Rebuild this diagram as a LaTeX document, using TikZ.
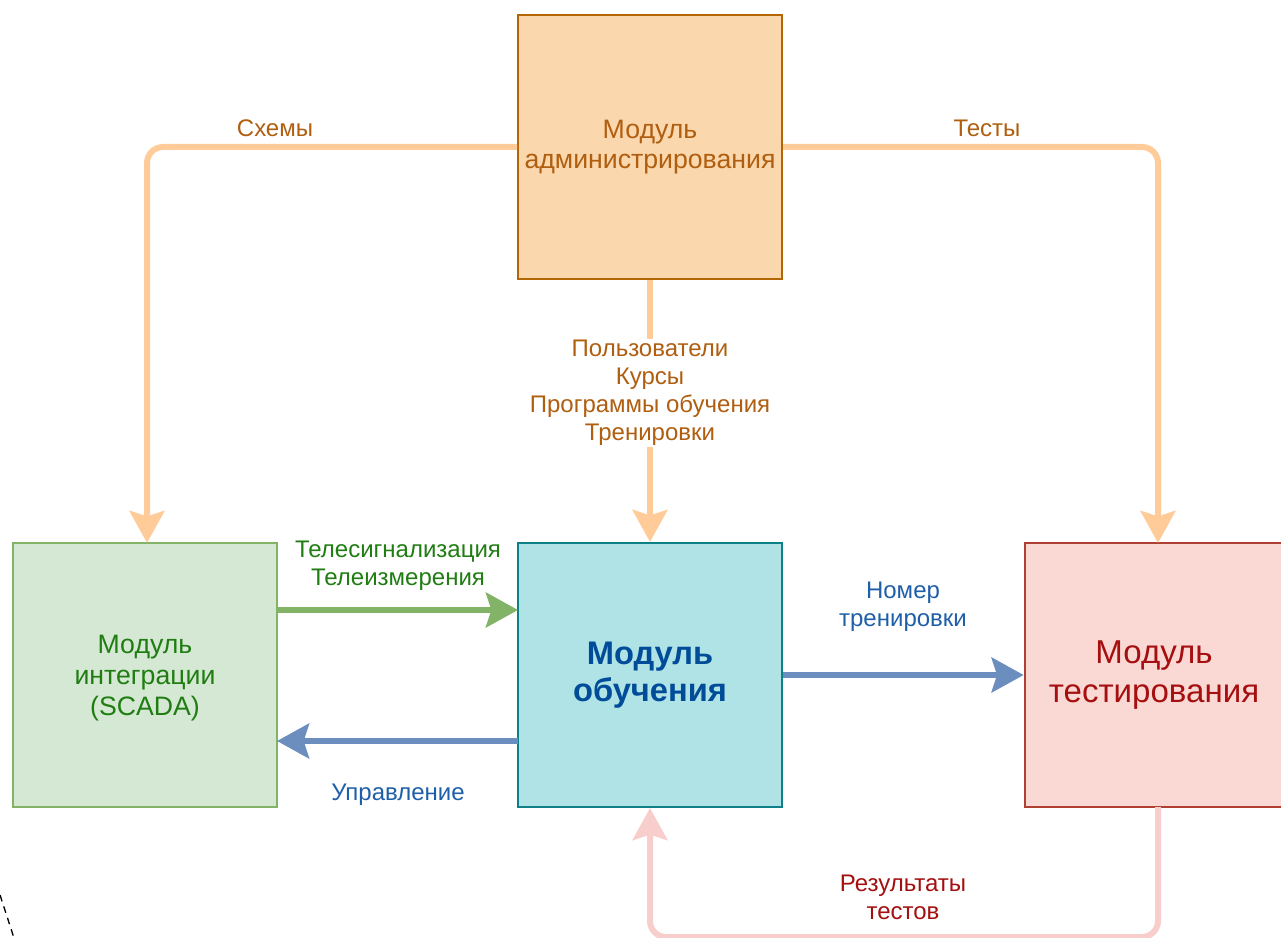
\documentclass[tikz,border=0pt]{standalone}
\usepackage{fontspec}
\setmainfont{Liberation Sans}
\usetikzlibrary{arrows.meta}
\definecolor{admfill}{HTML}{FAD7AC}
\definecolor{admdraw}{HTML}{B46504}
\definecolor{admtext}{HTML}{B05E10}
\definecolor{intfill}{HTML}{D5E8D4}
\definecolor{intdraw}{HTML}{82B366}
\definecolor{inttext}{HTML}{1F7D12}
\definecolor{trnfill}{HTML}{B0E3E6}
\definecolor{trndraw}{HTML}{0E8088}
\definecolor{trntext}{HTML}{004C99}
\definecolor{tstfill}{HTML}{FAD9D5}
\definecolor{tstdraw}{HTML}{AE4132}
\definecolor{tsttext}{HTML}{A50F0F}
\definecolor{orangeline}{HTML}{FFCC99}
\definecolor{greenline}{HTML}{82B366}
\definecolor{blueline}{HTML}{6C8EBF}
\definecolor{pinkline}{HTML}{F8CECC}
\definecolor{bluetext}{HTML}{1F5FA8}
\tikzset{
  module/.style={draw, line width=1.5pt, minimum width=198pt, minimum height=198pt, inner sep=0pt, align=center},
  flow/.style={line width=4.5pt, rounded corners=12pt, -{Stealth[length=24pt,width=26pt,inset=4pt]}},
  lbl/.style={font=\fontsize{18}{21}\selectfont, align=center, inner sep=1pt},
}
\begin{document}
\begin{tikzpicture}[x=0.75pt,y=-0.75pt]
\useasboundingbox (0,0) rectangle (1281,938);
% modules
\node[module, fill=admfill, draw=admdraw, text=admtext, font=\fontsize{20}{23}\selectfont] (adm) at (650,147) {Модуль\\администрирования};
\node[module, fill=intfill, draw=intdraw] (int) at (145,675) {};
\node[text=inttext, align=center, font=\fontsize{20}{23.5}\selectfont] (inttxt) at (145,678) {Модуль\\интеграции\\(SCADA)};
\node[module, fill=trnfill, draw=trndraw, text=trntext, font=\fontsize{24.5}{27.5}\selectfont\bfseries] (trn) at (650,675) {Модуль\\обучения};
\node[module, fill=tstfill, draw=tstdraw, text=tsttext, font=\fontsize{24.8}{29.5}\selectfont, minimum width=194pt] (tst) at (1154,675) {Модуль\\тестирования};
% corner coordinates
\coordinate (c1) at (147,147);
\coordinate (c2) at (1158,147);
\coordinate (c3) at (1158,937);
\coordinate (c4) at (650,937);
% orange flows
\draw[flow, orangeline] (adm.west) -- (c1) -- (147,543);
\draw[flow, orangeline] (adm.east) -- (c2) -- (1158,543);
\draw[flow, orangeline] (adm.south) -- (trn.north);
% green
\draw[flow, greenline] (277,610) -- (518,610);
% blue
\draw[flow, blueline] (518,741) -- (277,741);
\draw[flow, blueline] (trn.east) -- (tst.west);
% pink
\draw[flow, pinkline] (1158,807) -- (c3) -- (c4) -- (trn.south);
% labels
\node[lbl, text=admtext] (lsch) at (275,128) {Схемы};
\node[lbl, text=admtext] (ltst) at (987,128) {Тесты};
\node[lbl, text=admtext, fill=white] (lusr) at (650,393) {Пользователи\\Курсы\\Программы обучения\\Тренировки};
\node[lbl, text=inttext] (ltel) at (398,566) {Телесигнализация\\Телеизмерения};
\node[lbl, text=bluetext] (lupr) at (398,795) {Управление};
\node[lbl, text=bluetext] (lnum) at (903,607) {Номер\\тренировки};
\node[lbl, text=tsttext] (lres) at (903,897) {Результаты\\тестов};
% dashed fragment at bottom left
\draw[dashed, line width=1pt, dash pattern=on 5pt off 4pt] (0,895) -- (14,938);
\end{tikzpicture}
\end{document}
